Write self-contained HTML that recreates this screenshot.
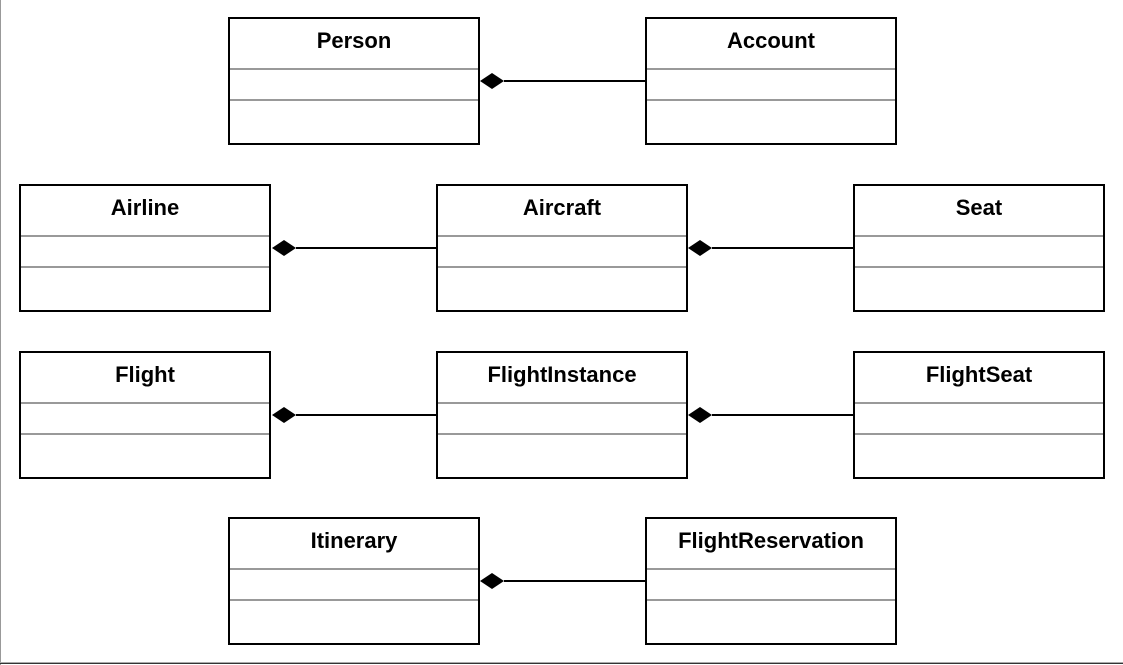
<!DOCTYPE html>
<html><head><style>
html,body{margin:0;padding:0;background:#fff;}
svg{display:block;}
text{font-family:"Liberation Sans",Arial,sans-serif;font-weight:bold;font-size:22px;fill:#000;}
</style></head><body>
<svg width="1123" height="665" viewBox="0 0 1123 665" xmlns="http://www.w3.org/2000/svg">
<rect x="0" y="0" width="1123" height="665" fill="#fff"/>
<line x1="0.5" y1="0" x2="0.5" y2="665" stroke="#999" stroke-width="1"/>
<line x1="0" y1="662.5" x2="1123" y2="662.5" stroke="#aaa" stroke-width="1"/>
<line x1="0" y1="663.5" x2="1123" y2="663.5" stroke="#333" stroke-width="1"/>
<defs>
<g id="box">
<rect x="0" y="0" width="250" height="126" fill="#fff" stroke="#000" stroke-width="2"/>
<line x1="1" y1="51" x2="249" y2="51" stroke="#999" stroke-width="2"/>
<line x1="1" y1="82" x2="249" y2="82" stroke="#999" stroke-width="2"/>
</g>
</defs>
<use href="#box" x="229" y="18"/><text x="354" y="48" text-anchor="middle">Person</text>
<use href="#box" x="646" y="18"/><text x="771" y="48" text-anchor="middle">Account</text>
<use href="#box" x="20" y="185"/><text x="145" y="215" text-anchor="middle">Airline</text>
<use href="#box" x="437" y="185"/><text x="562" y="215" text-anchor="middle">Aircraft</text>
<use href="#box" x="854" y="185"/><text x="979" y="215" text-anchor="middle">Seat</text>
<use href="#box" x="20" y="352"/><text x="145" y="382" text-anchor="middle">Flight</text>
<use href="#box" x="437" y="352"/><text x="562" y="382" text-anchor="middle">FlightInstance</text>
<use href="#box" x="854" y="352"/><text x="979" y="382" text-anchor="middle">FlightSeat</text>
<use href="#box" x="229" y="518"/><text x="354" y="548" text-anchor="middle">Itinerary</text>
<use href="#box" x="646" y="518"/><text x="771" y="548" text-anchor="middle">FlightReservation</text>
<g stroke="#000" stroke-width="2">
<line x1="504" y1="81" x2="646" y2="81"/>
<line x1="296" y1="248" x2="437" y2="248"/>
<line x1="712" y1="248" x2="854" y2="248"/>
<line x1="296" y1="415" x2="437" y2="415"/>
<line x1="712" y1="415" x2="854" y2="415"/>
<line x1="504" y1="581" x2="646" y2="581"/>
</g>
<g fill="#000">
<polygon points="480,81 492,73 504,81 492,89"/>
<polygon points="272,248 284,240 296,248 284,256"/>
<polygon points="688,248 700,240 712,248 700,256"/>
<polygon points="272,415 284,407 296,415 284,423"/>
<polygon points="688,415 700,407 712,415 700,423"/>
<polygon points="480,581 492,573 504,581 492,589"/>
</g>
</svg>
</body></html>
